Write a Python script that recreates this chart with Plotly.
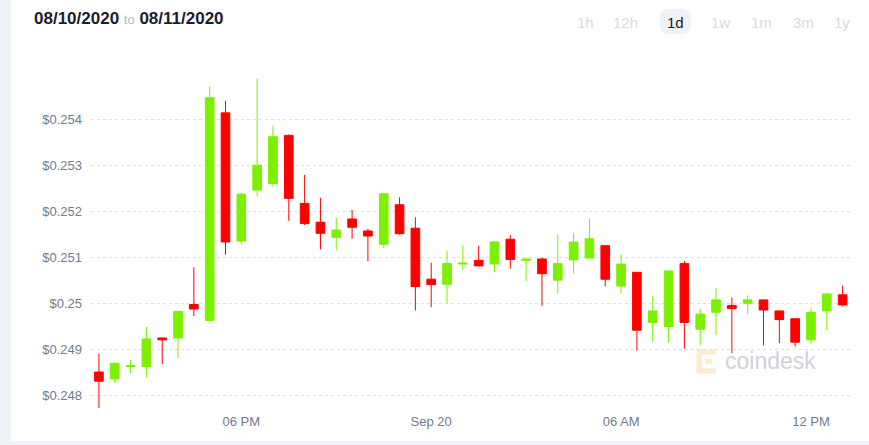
import pandas as pd
import plotly.graph_objects as go

# ---------------- data ----------------
times = pd.date_range("2020-09-19 13:30", periods=48, freq="30min")

opens = [0.24850, 0.24835, 0.24862, 0.24862, 0.24924, 0.24924, 0.24997, 0.24962,
         0.25414, 0.25135, 0.25246, 0.25260, 0.25365, 0.25217, 0.25176, 0.25143,
         0.25183, 0.25157, 0.25128, 0.25214, 0.25163, 0.25052, 0.25041, 0.25085,
         0.25093, 0.25085, 0.25139, 0.25093, 0.25096, 0.25050, 0.25094, 0.25098,
         0.25125, 0.25037, 0.25067, 0.24958, 0.24949, 0.25086, 0.24943, 0.24980,
         0.24995, 0.24999, 0.25007, 0.24983, 0.24966, 0.24920, 0.24983, 0.25018]
highs = [0.24890, 0.24870, 0.24876, 0.24948, 0.24926, 0.24983, 0.25078, 0.25472,
         0.25440, 0.25240, 0.25488, 0.25386, 0.25367, 0.25279, 0.25229, 0.25186,
         0.25203, 0.25162, 0.25240, 0.25230, 0.25187, 0.25088, 0.25114, 0.25125,
         0.25125, 0.25135, 0.25148, 0.25097, 0.25099, 0.25149, 0.25153, 0.25183,
         0.25125, 0.25107, 0.25067, 0.25015, 0.25070, 0.25092, 0.24988, 0.25033,
         0.25012, 0.25017, 0.25007, 0.24983, 0.24966, 0.24990, 0.25022, 0.25038]
lows = [0.24772, 0.24826, 0.24848, 0.24838, 0.24867, 0.24880, 0.24972, 0.24960,
        0.25105, 0.25127, 0.25232, 0.25253, 0.25179, 0.25170, 0.25117, 0.25115,
        0.25140, 0.25091, 0.25119, 0.25149, 0.24984, 0.24991, 0.24999, 0.25072,
        0.25081, 0.25067, 0.25075, 0.25048, 0.24994, 0.25021, 0.25064, 0.25098,
        0.25036, 0.25021, 0.24897, 0.24917, 0.24914, 0.24901, 0.24908, 0.24930,
        0.24891, 0.24976, 0.24908, 0.24913, 0.24905, 0.24912, 0.24941, 0.24993]
closes = [0.24830, 0.24869, 0.24864, 0.24922, 0.24920, 0.24982, 0.24987, 0.25447,
          0.25133, 0.25237, 0.25300, 0.25362, 0.25228, 0.25173, 0.25152, 0.25159,
          0.25165, 0.25146, 0.25238, 0.25151, 0.25036, 0.25040, 0.25086, 0.25087,
          0.25081, 0.25133, 0.25095, 0.25096, 0.25064, 0.25086, 0.25133, 0.25140,
          0.25052, 0.25085, 0.24941, 0.24983, 0.25070, 0.24958, 0.24976, 0.25007,
          0.24988, 0.25007, 0.24985, 0.24964, 0.24915, 0.24980, 0.25020, 0.24996]

y_tickvals = [0.248, 0.249, 0.250, 0.251, 0.252, 0.253, 0.254]
y_ticktext = ["$0.248", "$0.249", "$0.25", "$0.251", "$0.252", "$0.253", "$0.254"]
x_tickvals = ["2020-09-19 18:00", "2020-09-20 00:00", "2020-09-20 06:00", "2020-09-20 12:00"]
x_ticktext = ["06 PM", "Sep 20", "06 AM", "12 PM"]

range_buttons = ["1h", "12h", "1d", "1w", "1m", "3m", "1y"]
date_from, date_to = "08/10/2020", "08/11/2020"

# ---------------- layout helpers ----------------
W, H = 869, 445
L, R, T, B = 91, 19, 70, 33
PW, PH = W - L - R, H - T - B


def px(x):
    return (x - L) / PW


def py(y):
    return (H - B - y) / PH


def rounded_rect(x0, y0, x1, y1, r):
    pts = [
        ("M", [(x0 + r, y0)]), ("L", [(x1 - r, y0)]), ("Q", [(x1, y0), (x1, y0 + r)]),
        ("L", [(x1, y1 - r)]), ("Q", [(x1, y1), (x1 - r, y1)]), ("L", [(x0 + r, y1)]),
        ("Q", [(x0, y1), (x0, y1 - r)]), ("L", [(x0, y0 + r)]), ("Q", [(x0, y0), (x0 + r, y0)]),
    ]
    s = ""
    for cmd, ps in pts:
        s += cmd + " " + " ".join(f"{px(a):.5f},{py(b):.5f}" for a, b in ps) + " "
    return s + "Z"


fig = go.Figure(go.Candlestick(
    x=times, open=opens, high=highs, low=lows, close=closes,
    increasing=dict(line=dict(color="#7cf000", width=1), fillcolor="#7cf000"),
    decreasing=dict(line=dict(color="#ff0000", width=1), fillcolor="#ff0000"),
    whiskerwidth=0, showlegend=False,
))

shapes = [
    # white card on light page background
    dict(type="rect", xref="paper", yref="paper", x0=px(11), x1=px(875), y0=py(441), y1=py(-5),
         fillcolor="white", line=dict(width=0), layer="below"),
    # active range button background
    dict(type="path", xref="paper", yref="paper", path=rounded_rect(660, 9, 691, 34, 9),
         fillcolor="#eef1f7", line=dict(width=0), layer="below"),
    # watermark icon
    dict(type="path", xref="paper", yref="paper",
         path=f"M {px(716)},{py(352)} L {px(699)},{py(352)} L {px(699)},{py(371)} L {px(716)},{py(371)}",
         line=dict(color="#fdecc9", width=5), layer="below"),
    dict(type="line", xref="paper", yref="paper", x0=px(705), x1=px(712), y0=py(361.5), y1=py(361.5),
         line=dict(color="#fdecc9", width=5), layer="below"),
]

annotations = [
    dict(xref="paper", yref="paper", x=px(32), y=py(19), xanchor="left", yanchor="middle",
         text=f"<b>{date_from}</b> <span style='font-size:13px;color:#b4b8c6'>to</span> <b>{date_to}</b>",
         showarrow=False, font=dict(family="Liberation Sans", size=17, color="#1b1c2e")),
    dict(xref="paper", yref="paper", x=px(723), y=py(361), xanchor="left", yanchor="middle",
         text="coindesk", showarrow=False,
         font=dict(family="Liberation Sans", size=23, color="#cfd2db")),
]
btn_x = [585.5, 625.5, 675.5, 720.5, 761, 803, 842]
for label, bx in zip(range_buttons, btn_x):
    annotations.append(dict(
        xref="paper", yref="paper", x=px(bx), y=py(22), xanchor="center", yanchor="middle",
        text=label, showarrow=False,
        font=dict(family="Liberation Sans", size=15,
                  color="#16182a" if label == "1d" else "#d6d9e4")))

fig.update_layout(
    width=W, height=H,
    margin=dict(l=L, r=R, t=T, b=B),
    paper_bgcolor="#eef2f7", plot_bgcolor="rgba(0,0,0,0)",
    shapes=shapes, annotations=annotations,
    font=dict(family="Liberation Sans", size=13, color="#6f7b8f"),
    boxgap=0.22,
    xaxis=dict(
        type="date", rangeslider=dict(visible=False),
        range=["2020-09-19 13:15", "2020-09-20 13:14"],
        tickvals=x_tickvals, ticktext=x_ticktext, showgrid=False, zeroline=False,
        showline=False, ticks="", tickfont=dict(size=13, color="#6f7b8f"),
    ),
    yaxis=dict(
        range=[0.248 - (412 - 395) / 45950, 0.248 + (395 - 70) / 45950],
        tickvals=y_tickvals, ticktext=y_ticktext, showgrid=True, gridcolor="#dde0ea",
        griddash="dot", gridwidth=1, zeroline=False, showline=False, ticks="",
        ticklabelstandoff=8, tickfont=dict(size=13, color="#6f7b8f"),
    ),
    hovermode=False,
)

fig.write_html("out.html")
